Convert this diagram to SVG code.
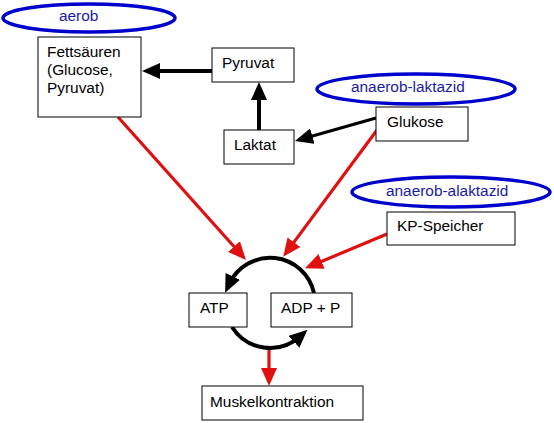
<svg xmlns="http://www.w3.org/2000/svg" width="554" height="423" viewBox="0 0 554 423">
<defs>
<style>
.box{fill:#fff;stroke:#000;stroke-width:1}
.t{font-family:"Liberation Sans",Arial,sans-serif;font-size:15.4px;fill:#000}
.lbl{font-family:"Liberation Sans",Arial,sans-serif;font-size:15.4px;fill:#1a1aa8}
.ell{fill:#fff;stroke:#0000cc;stroke-width:3.5}
.blk{fill:none;stroke:#000;stroke-width:4}
.blk3{fill:none;stroke:#000;stroke-width:3}
.red{fill:none;stroke:#e01010;stroke-width:3.2}
</style>
<marker id="hb" markerUnits="userSpaceOnUse" markerWidth="18" markerHeight="16" viewBox="0 0 18 16" refX="8" refY="8" orient="auto">
<path d="M0,0 L18,8 L0,16 Z" fill="#000"/>
</marker>
<marker id="hr" markerUnits="userSpaceOnUse" markerWidth="18" markerHeight="16" viewBox="0 0 18 16" refX="8" refY="8" orient="auto">
<path d="M0,0 L18,8 L0,16 Z" fill="#e01010"/>
</marker>
</defs>
<rect width="554" height="423" fill="#fff"/>

<g id="connectors">
<line class="blk" x1="212" y1="71" x2="152" y2="71" marker-end="url(#hb)"/>
<line class="blk" x1="259" y1="130" x2="259" y2="92" marker-end="url(#hb)"/>
<line class="blk3" x1="376" y1="118" x2="304.6" y2="138.3" marker-end="url(#hb)"/>
<line class="red" x1="118" y1="117" x2="239.3" y2="252.5" marker-end="url(#hr)"/>
<line class="red" x1="377" y1="130" x2="289.2" y2="248.6" marker-end="url(#hr)"/>
<line class="red" x1="387" y1="234" x2="314.2" y2="264.5" marker-end="url(#hr)"/>
<line class="red" x1="269" y1="348" x2="269" y2="376" marker-end="url(#hr)"/>
<path class="blk" d="M314,293 A45,45 0 0 0 229.4,283.6" marker-end="url(#hb)"/>
<path class="blk" d="M232,327 A45,45 0 0 0 300,336.5" marker-end="url(#hb)"/>
</g>

<g id="aerob">
<ellipse class="ell" cx="89" cy="18" rx="86" ry="14"/>
<text class="lbl" x="59" y="21">aerob</text>
</g>
<g id="fettsaeuren">
<rect class="box" x="38" y="37" width="103" height="80"/>
<text class="t" x="47" y="57">Fettsäuren</text>
<text class="t" x="47" y="75">(Glucose,</text>
<text class="t" x="47" y="93">Pyruvat)</text>
</g>
<g id="pyruvat">
<rect class="box" x="212" y="48" width="82" height="34"/>
<text class="t" x="222" y="68">Pyruvat</text>
</g>
<g id="laktat">
<rect class="box" x="224" y="130" width="70" height="34"/>
<text class="t" x="234" y="150">Laktat</text>
</g>
<g id="anaerob-laktazid">
<ellipse class="ell" cx="416" cy="89" rx="99" ry="15"/>
<text class="lbl" x="351" y="92">anaerob-laktazid</text>
</g>
<g id="glukose">
<rect class="box" x="376" y="107" width="92" height="34"/>
<text class="t" x="387" y="127">Glukose</text>
</g>
<g id="anaerob-alaktazid">
<ellipse class="ell" cx="451" cy="192" rx="99" ry="15"/>
<text class="lbl" x="386" y="196">anaerob-alaktazid</text>
</g>
<g id="kp-speicher">
<rect class="box" x="387" y="212" width="128" height="33"/>
<text class="t" x="397" y="231">KP-Speicher</text>
</g>
<g id="atp">
<rect class="box" x="189" y="293" width="58" height="34"/>
<text class="t" x="200" y="313">ATP</text>
</g>
<g id="adp">
<rect class="box" x="271" y="293" width="81" height="34"/>
<text class="t" x="281" y="313">ADP + P</text>
</g>
<g id="muskelkontraktion">
<rect class="box" x="202" y="386" width="161" height="34"/>
<text class="t" x="210" y="407">Muskelkontraktion</text>
</g>
</svg>
